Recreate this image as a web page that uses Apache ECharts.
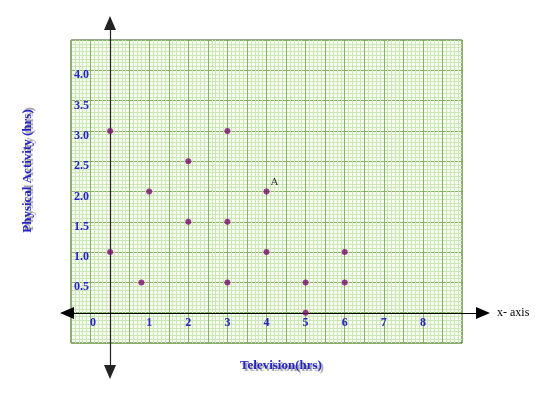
<!DOCTYPE html>
<html>
<head>
<meta charset="utf-8">
<script src="https://cdn.jsdelivr.net/npm/echarts@6/dist/echarts.min.js"></script>
<style>
  html, body { margin: 0; padding: 0; background: #fff; }
  #chart { width: 545px; height: 397px; }
</style>
</head>
<body>
<div id="chart"></div>
<script>
// data
var tvHours       = [0,   0,   0.8, 1,   2,   2,   3,   3,   3,   4,   4,   5,   5, 6,   6];
var activityHours = [3.0, 1.0, 0.5, 2.0, 2.5, 1.5, 3.0, 1.5, 0.5, 2.0, 1.0, 0.5, 0, 1.0, 0.5];
var pointLabels   = ['', '', '', '', '', '', '', '', '', 'A', '', '', '', '', ''];
var xTicks = [0, 1, 2, 3, 4, 5, 6, 7, 8];
var yTicks = [0.5, 1.0, 1.5, 2.0, 2.5, 3.0, 3.5, 4.0];

var blue = '#2424c8';
var serif = 'Liberation Serif, DejaVu Serif, serif';

var chart = echarts.init(document.getElementById('chart'), null, { renderer: 'canvas' });

var points = tvHours.map(function (x, i) { return [x, activityHours[i]]; });

var option = {
  animation: false,
  grid: [
    { // graph paper
      left: 71, top: 40, width: 391, height: 303,
      show: true, backgroundColor: '#f7fcf1', borderColor: '#334d25', borderWidth: 1
    },
    { // black axes with arrows
      left: 67, right: 62, top: 23, bottom: 25
    }
  ],
  xAxis: [
    {
      gridIndex: 0, type: 'value', min: -1, max: 9, interval: 0.5,
      position: 'bottom', offset: -30, // labels sit just under the x axis
      axisLine: { show: false }, axisTick: { show: false },
      axisLabel: {
        customValues: xTicks, margin: 4,
        color: blue, fontFamily: serif, fontWeight: 'bold', fontSize: 12,
        formatter: function (v) { return v === 0 ? '{z|0}' : String(v); },
        rich: { z: { padding: [0, 34, 0, 0], color: blue, fontFamily: serif, fontWeight: 'bold', fontSize: 12 } }
      },
      splitLine: { lineStyle: { color: '#86b262', width: 1 } },
      minorTick: { show: false, splitNumber: 5 },
      minorSplitLine: { show: true, lineStyle: { color: '#cde6b8', width: 1 } }
    },
    {
      gridIndex: 1, type: 'value', min: -1.10, max: 9.54,
      axisLine: { show: true, onZero: true, symbol: ['triangle', 'triangle'], symbolSize: [12, 14],
        lineStyle: { color: '#000', width: 1.2 } },
      axisTick: { show: false }, axisLabel: { show: false }, splitLine: { show: false },
      name: 'x- axis', nameLocation: 'end', nameGap: 14,
      nameTextStyle: { color: '#000', fontFamily: serif, fontSize: 12 }
    }
  ],
  yAxis: [
    {
      gridIndex: 0, type: 'value', min: -0.5, max: 4.5, interval: 0.5,
      axisLine: { show: false }, axisTick: { show: false },
      axisLabel: {
        customValues: yTicks, inside: true, margin: 3,
        verticalAlign: 'top', lineHeight: 10,
        color: blue, fontFamily: serif, fontWeight: 'bold', fontSize: 12,
        formatter: function (v) { return v.toFixed(1); }
      },
      splitLine: { lineStyle: { color: '#86b262', width: 1 } },
      minorTick: { show: false, splitNumber: 8 },
      minorSplitLine: { show: true, lineStyle: { color: '#cde6b8', width: 1 } }
    },
    {
      gridIndex: 1, type: 'value', min: -0.974, max: 4.785,
      axisLine: { show: true, onZero: true, symbol: ['triangle', 'triangle'], symbolSize: [12, 14],
        lineStyle: { color: '#222', width: 1.2 } },
      axisTick: { show: false }, axisLabel: { show: false }, splitLine: { show: false }
    }
  ],
  graphic: [
    {
      type: 'text', x: 281, y: 366,
      style: {
        text: 'Television(hrs)', fill: blue, font: 'bold 13px ' + serif,
        textAlign: 'center', textVerticalAlign: 'middle',
        textShadowColor: '#9a9a9a', textShadowOffsetX: 2, textShadowOffsetY: 2, textShadowBlur: 1
      }
    },
    {
      type: 'text', x: 28, y: 171, rotation: Math.PI / 2,
      style: {
        text: 'Physical Activity (hrs)', fill: blue, font: 'bold 13px ' + serif,
        textAlign: 'center', textVerticalAlign: 'middle',
        textShadowColor: '#9a9a9a', textShadowOffsetX: 2, textShadowOffsetY: -2, textShadowBlur: 1
      }
    }
  ],
  series: [
    {
      type: 'scatter', xAxisIndex: 0, yAxisIndex: 0,
      data: points, symbolSize: 6, clip: false,
      itemStyle: { color: '#7c0f70' },
      label: {
        show: true, position: [7, -12], color: '#000', fontFamily: serif, fontSize: 11,
        formatter: function (p) { return pointLabels[p.dataIndex]; }
      }
    }
  ]
};

chart.setOption(option);
</script>
</body>
</html>
